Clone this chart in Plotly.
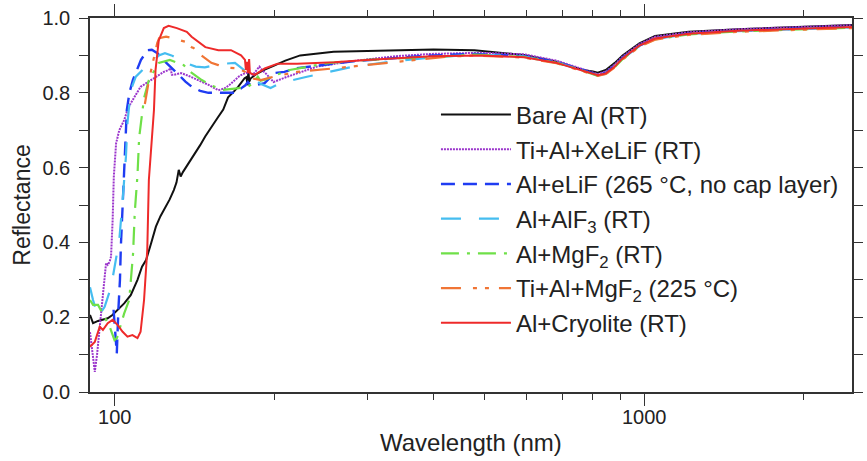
import plotly.graph_objects as go

# ---------------- data ----------------
wl_bare = [89.8, 91.0, 93.0, 95.0, 97.0, 99.0, 101.3, 104.2, 107.2, 110.4, 112.6, 114.6, 117.0, 119.6, 122.0,
           124.8, 127.0, 129.3, 130.8, 132.1, 133.2, 134.5, 138.0, 142.0, 145.0, 148.2, 152.0, 156.9, 160.3,
           163.7, 167.0, 171.0, 175.9, 177.3, 178.2, 178.8, 179.5, 180.5, 185.0, 192.0, 199.5, 210.0, 224.0,
           259.0, 300.0, 344.0, 400.0, 478.0, 593.0, 683.0, 766.0, 800.0, 817.0, 846.0, 880.0, 910.0, 979.0,
           1048.0, 1213.0, 1503.0, 1995.0, 2470.0]
r_bare = [0.206, 0.184, 0.190, 0.193, 0.197, 0.206, 0.220, 0.237, 0.259, 0.300, 0.335, 0.353, 0.395, 0.442, 0.470,
          0.495, 0.515, 0.540, 0.560, 0.594, 0.576, 0.588, 0.612, 0.638, 0.660, 0.683, 0.708, 0.736, 0.755,
          0.788, 0.800, 0.816, 0.839, 0.842, 0.820, 0.860, 0.830, 0.838, 0.850, 0.862, 0.872, 0.886, 0.900,
          0.910, 0.912, 0.914, 0.916, 0.914, 0.901, 0.883, 0.861, 0.857, 0.854, 0.861, 0.880, 0.900, 0.932,
          0.952, 0.963, 0.970, 0.977, 0.981]

wl_xelif = [89.8, 90.6, 91.7, 92.6, 93.7, 95.0, 95.7, 96.3, 97.0, 97.8, 98.4, 99.1, 99.6, 100.6, 102.0, 104.2,
            105.7, 107.2, 111.9, 116.9, 123.8, 126.4, 127.5, 128.2, 129.3, 132.9, 134.0, 138.0, 143.9, 150.0,
            156.9, 161.4, 165.0, 168.5, 172.0, 175.9, 179.0, 182.3, 185.0, 187.6, 190.0, 192.8, 199.5, 211.8,
            240.9, 282.3, 340.0, 398.0, 493.0, 593.0, 683.0, 766.0, 817.0, 846.0, 880.0, 910.0, 979.0, 1048.0,
            1213.0, 1503.0, 1995.0, 2470.0]
r_xelif = [0.160, 0.110, 0.054, 0.100, 0.175, 0.246, 0.300, 0.345, 0.340, 0.348, 0.362, 0.460, 0.576, 0.665,
           0.700, 0.727, 0.754, 0.772, 0.816, 0.834, 0.856, 0.861, 0.866, 0.848, 0.848, 0.852, 0.852, 0.845,
           0.834, 0.822, 0.807, 0.812, 0.822, 0.834, 0.845, 0.852, 0.855, 0.848, 0.860, 0.870, 0.860, 0.852,
           0.829, 0.843, 0.870, 0.885, 0.898, 0.904, 0.907, 0.903, 0.886, 0.863, 0.850, 0.857, 0.876, 0.897,
           0.930, 0.950, 0.962, 0.970, 0.977, 0.981]

wl_elif = [99.5, 100.2, 100.9, 101.6, 102.3, 102.7, 103.5, 104.2, 104.7, 105.4, 106.6, 108.2, 112.1, 115.3,
           117.5, 120.4, 123.0, 126.6, 132.1, 136.0, 139.9, 145.0, 150.3, 156.9, 165.8, 170.0, 173.2, 176.5,
           178.4, 180.0, 183.9, 191.9, 200.4, 209.1, 221.0, 240.9, 282.0, 340.0, 400.0, 478.0, 593.0, 683.0,
           766.0, 817.0, 846.0, 880.0, 910.0, 979.0, 1048.0, 1213.0, 1503.0, 1995.0, 2470.0]
r_elif = [0.220, 0.170, 0.103, 0.220, 0.300, 0.389, 0.495, 0.594, 0.690, 0.754, 0.800, 0.834, 0.888, 0.914,
          0.915, 0.906, 0.890, 0.874, 0.848, 0.830, 0.816, 0.805, 0.800, 0.800, 0.800, 0.800, 0.812, 0.820,
          0.829, 0.822, 0.820, 0.826, 0.853, 0.856, 0.866, 0.872, 0.884, 0.893, 0.900, 0.904, 0.898, 0.882,
          0.861, 0.847, 0.853, 0.872, 0.893, 0.926, 0.945, 0.958, 0.966, 0.972, 0.976]

wl_alf3 = [89.8, 91.0, 93.0, 95.7, 98.4, 100.6, 102.0, 103.5, 105.0, 105.7, 107.2, 109.6, 113.0, 117.7, 121.1,
           124.4, 128.0, 132.0, 136.2, 142.2, 148.0, 154.9, 161.6, 168.7, 174.0, 176.8, 178.4, 182.0, 188.0,
           196.9, 205.6, 230.7, 282.3, 340.0, 400.0, 478.0, 593.0, 683.0, 766.0, 817.0, 846.0, 880.0, 910.0,
           979.0, 1048.0, 1213.0, 1503.0, 1995.0, 2470.0]
r_alf3 = [0.280, 0.246, 0.200, 0.228, 0.280, 0.358, 0.406, 0.513, 0.630, 0.720, 0.807, 0.843, 0.862, 0.880,
          0.900, 0.906, 0.900, 0.890, 0.880, 0.870, 0.868, 0.874, 0.878, 0.880, 0.865, 0.856, 0.853, 0.840,
          0.825, 0.813, 0.826, 0.843, 0.870, 0.885, 0.895, 0.902, 0.897, 0.881, 0.860, 0.846, 0.851, 0.870,
          0.891, 0.925, 0.944, 0.957, 0.965, 0.971, 0.975]

wl_mgf2 = [89.8, 91.0, 93.0, 95.0, 97.8, 99.9, 101.0, 102.0, 104.2, 106.5, 108.3, 109.1, 109.9, 110.4, 111.2,
           112.7, 113.6, 116.0, 121.1, 127.1, 131.0, 135.0, 138.9, 146.0, 152.0, 160.0, 170.0, 178.0, 182.3,
           186.3, 188.5, 192.0, 200.0, 211.8, 254.7, 300.0, 400.0, 478.0, 593.0, 683.0, 766.0, 817.0, 846.0,
           880.0, 910.0, 979.0, 1048.0, 1213.0, 1503.0, 1995.0, 2470.0]
r_mgf2 = [0.246, 0.233, 0.233, 0.210, 0.175, 0.139, 0.145, 0.166, 0.210, 0.246, 0.370, 0.480, 0.540, 0.580,
          0.680, 0.745, 0.786, 0.834, 0.880, 0.888, 0.882, 0.874, 0.856, 0.834, 0.820, 0.808, 0.812, 0.815,
          0.826, 0.843, 0.832, 0.835, 0.845, 0.860, 0.880, 0.888, 0.896, 0.902, 0.896, 0.880, 0.859, 0.845,
          0.850, 0.869, 0.890, 0.924, 0.943, 0.956, 0.964, 0.970, 0.974]

wl_timgf2 = [114.0, 114.8, 115.6, 116.4, 118.0, 120.3, 121.3, 123.0, 125.0, 128.0, 132.0, 136.2, 139.7, 140.9,
             145.8, 147.1, 152.2, 156.9, 161.0, 168.7, 173.0, 176.2, 179.0, 183.0, 188.7, 199.5, 221.0, 262.5,
             339.4, 420.5, 478.0, 593.0, 683.0, 766.0, 817.0, 846.0, 880.0, 910.0, 979.0, 1048.0, 1213.0,
             1503.0, 1995.0, 2470.0]
r_timgf2 = [0.770, 0.800, 0.820, 0.843, 0.880, 0.933, 0.946, 0.948, 0.950, 0.947, 0.941, 0.936, 0.922, 0.920,
            0.900, 0.896, 0.880, 0.874, 0.868, 0.866, 0.862, 0.856, 0.845, 0.838, 0.834, 0.843, 0.856, 0.866,
            0.883, 0.896, 0.900, 0.894, 0.879, 0.858, 0.845, 0.850, 0.868, 0.889, 0.923, 0.942, 0.955, 0.963,
            0.969, 0.973]

wl_cryo = [89.8, 91.7, 93.7, 95.0, 97.0, 99.1, 101.3, 103.5, 105.7, 108.0, 110.4, 111.9, 113.6, 114.4, 115.2,
           116.0, 117.3, 118.6, 119.4, 121.1, 123.8, 126.4, 131.0, 136.8, 139.7, 144.0, 148.3, 156.9, 165.8,
           173.2, 176.2, 176.9, 177.6, 178.4, 179.4, 180.0, 183.9, 192.0, 203.0, 221.0, 260.0, 298.5, 397.7,
           493.0, 593.0, 683.0, 766.0, 817.0, 846.0, 880.0, 910.0, 979.0, 1048.0, 1213.0, 1503.0, 1995.0, 2470.0]
r_cryo = [0.121, 0.134, 0.175, 0.166, 0.184, 0.193, 0.179, 0.161, 0.148, 0.152, 0.144, 0.161, 0.246, 0.330,
          0.380, 0.567, 0.660, 0.754, 0.860, 0.940, 0.973, 0.979, 0.973, 0.963, 0.950, 0.935, 0.922, 0.914,
          0.914, 0.900, 0.888, 0.861, 0.883, 0.853, 0.890, 0.853, 0.848, 0.865, 0.878, 0.878, 0.882, 0.888,
          0.898, 0.900, 0.895, 0.880, 0.859, 0.847, 0.852, 0.870, 0.892, 0.926, 0.945, 0.958, 0.966, 0.972,
          0.976]

names = ["Bare Al (RT)", "Ti+Al+XeLiF (RT)", "Al+eLiF (265 °C, no cap layer)", "Al+AlF<sub>3</sub> (RT)",
         "Al+MgF<sub>2</sub> (RT)", "Ti+Al+MgF<sub>2</sub> (225 °C)", "Al+Cryolite (RT)"]
x_ticks = [100, 1000]
x_tick_text = ["100", "1000"]
x_minor = [200, 300, 400, 500, 600, 700, 800, 900, 2000]
x_title = "Wavelength (nm)"
y_title = "Reflectance"

# ---------------- styles ----------------
series = [
    (wl_bare, r_bare, "#111111", "solid", 2.0),
    (wl_xelif, r_xelif, "#9b35cc", "2px,1px", 2.0),
    (wl_elif, r_elif, "#1f3cf2", "14px,8px", 2.4),
    (wl_alf3, r_alf3, "#45bdf0", "20px,18px", 2.2),
    (wl_mgf2, r_mgf2, "#6fe048", "18px,8px,3px,8px", 2.2),
    (wl_timgf2, r_timgf2, "#f07535", "20px,12px,4px,8px,4px,10px", 2.2),
    (wl_cryo, r_cryo, "#ee2a2a", "solid", 2.0),
]

fig = go.Figure()
for (xs, ys, col, dash, w), nm in zip(series, names):
    fig.add_trace(go.Scatter(x=xs, y=ys, mode="lines", name=nm, legendgroup=nm,
                             line=dict(color=col, dash=dash, width=w)))

font_family = "Liberation Sans, Arial, sans-serif"
fig.update_layout(
    width=867, height=461,
    margin=dict(l=90, r=4, t=18, b=69),
    paper_bgcolor="white", plot_bgcolor="white",
    font=dict(family=font_family, color="#222222", size=20),
    showlegend=True,
    legend=dict(x=0.454, y=0.801, xanchor="left", yanchor="top", bgcolor="rgba(0,0,0,0)",
                font=dict(size=24, family=font_family, color="#222222"),
                itemwidth=70, tracegroupgap=0.5),
)
fig.add_annotation(text=x_title, xref="paper", yref="paper", x=0.5, y=-0.1337,
                   xanchor="center", yanchor="middle", showarrow=False,
                   font=dict(size=24, family=font_family, color="#222222"))
fig.update_xaxes(
    type="log", range=[1.9533, 3.3924],
    showline=True, linecolor="#333333", linewidth=1.5, mirror="allticks",
    showgrid=False, zeroline=False,
    tickmode="array", tickvals=x_ticks, ticktext=x_tick_text,
    ticks="outside", ticklen=12, tickwidth=1.3, tickcolor="#333333",
    tickfont=dict(size=20), ticklabelstandoff=-6,
    minor=dict(tickmode="array", tickvals=x_minor, ticks="outside", ticklen=6,
               tickwidth=1.3, tickcolor="#333333", showgrid=False),
)
fig.update_yaxes(
    range=[0, 1.0],
    showline=True, linecolor="#333333", linewidth=1.5, mirror="allticks",
    showgrid=False, zeroline=False,
    dtick=0.2, tick0=0, tickformat=".1f",
    ticks="outside", ticklen=9, tickwidth=1.3, tickcolor="#333333",
    tickfont=dict(size=20), ticklabelstandoff=5,
    minor=dict(dtick=0.1, ticks="outside", ticklen=9, tickwidth=1.3, tickcolor="#333333", showgrid=False),
    title=dict(text=y_title, font=dict(size=23), standoff=5),
)

fig.write_html("out.html", config={"displayModeBar": False},
               post_script="document.body.style.margin='0';document.body.style.overflow='hidden';")
